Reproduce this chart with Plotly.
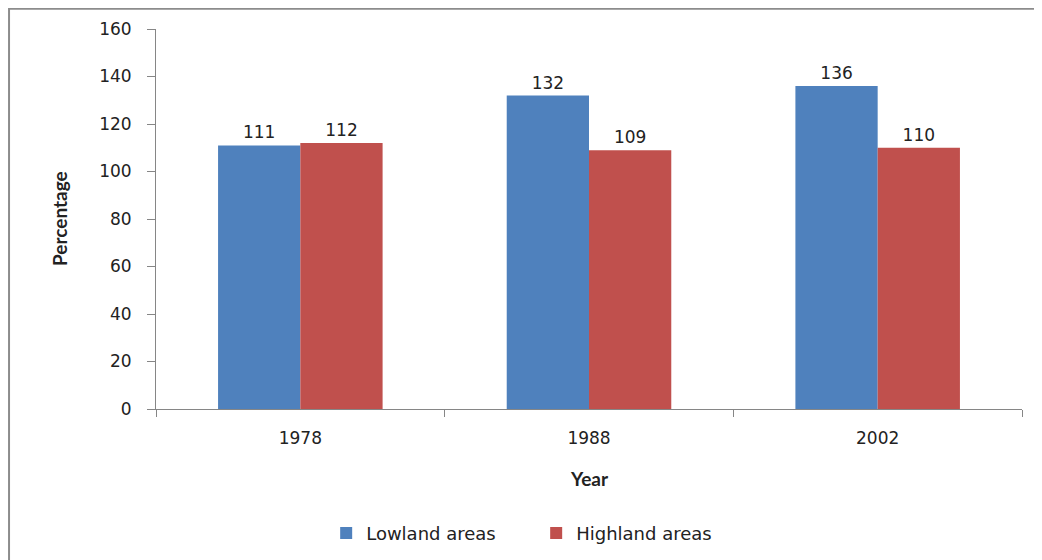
import plotly.graph_objects as go

# datos del grafico
years = ["1978", "1988", "2002"]
lowland = [111, 132, 136]
highland = [112, 109, 110]

font_family = "DejaVu Sans, sans-serif"
title_family = "Lato, sans-serif"

fig = go.Figure()

fig.add_trace(go.Bar(x=years, y=lowland, name="Lowland areas",
                     marker=dict(color="#4F81BD", line=dict(width=0)),
                     text=lowland, textposition="outside", cliponaxis=False,
                     textfont=dict(size=17, color="#222222")))
fig.add_trace(go.Bar(x=years, y=highland, name="Highland areas",
                     marker=dict(color="#C0504D", line=dict(width=0)),
                     text=highland, textposition="outside", cliponaxis=False,
                     textfont=dict(size=17, color="#222222")))

# la pagina tiene un margen de 8px, por eso el ancho/alto es menor
fig.update_layout(
    width=1034, height=552,
    barmode="group", bargap=0.43, bargroupgap=0,
    plot_bgcolor="white", paper_bgcolor="white",
    font=dict(family=font_family, size=17, color="#222222"),
    margin=dict(l=148, r=20, t=21, b=151, autoexpand=False),
    legend=dict(orientation="h", x=0.439, xanchor="center", y=-0.327, yanchor="middle",
                font=dict(size=18), itemwidth=30, tracegroupgap=0,
                entrywidth=165, entrywidthmode="pixels"),
)

fig.update_xaxes(showline=True, linecolor="#868686", linewidth=1,
                 ticks="outside", tickson="boundaries", ticklen=7, tickcolor="#868686",
                 showgrid=False, tickfont=dict(size=17), ticklabelstandoff=14, automargin=False)
fig.update_yaxes(range=[0, 160], dtick=20, showline=True, linecolor="#868686", linewidth=1,
                 ticks="outside", ticklen=8, tickcolor="#868686", showgrid=False,
                 zeroline=False, tickfont=dict(size=17), ticklabelstandoff=12, automargin=False)

# titulos de los ejes
fig.add_annotation(text="<b>Year</b>", xref="paper", yref="paper", x=0.5, y=-0.183,
                   showarrow=False, font=dict(size=19, family=title_family), yanchor="middle")
fig.add_annotation(text="<b>Percentage</b>", xref="paper", yref="paper", x=-0.112, y=0.5,
                   showarrow=False, textangle=-90, font=dict(size=19, family=title_family),
                   xanchor="center")

# borde del area del grafico
fig.add_shape(type="rect", xref="paper", yref="paper", x0=-0.1697, y0=-0.5, x1=1.05, y1=1.053,
              line=dict(color="#8C8C8C", width=2), layer="below")

fig.write_html("out.html")
